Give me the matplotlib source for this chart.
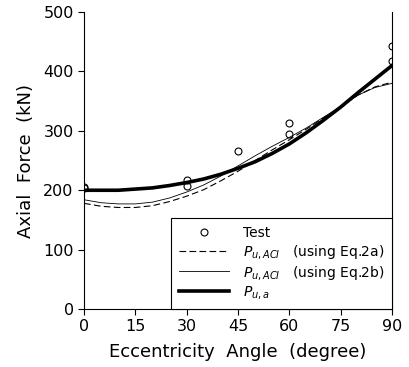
import matplotlib
matplotlib.use("Agg")
import matplotlib.pyplot as plt

# eccentricity angle (degree)
angle = [0, 5, 10, 15, 20, 25, 30, 35, 40, 45, 50, 55, 60, 65, 70, 75, 80, 85, 90]
# P_u,a (proposed)
pu_a = [200, 200, 200, 202, 204, 208, 213, 219, 227, 237, 248, 262, 278, 297, 318, 340, 364, 387, 410]
# P_u,ACI using Eq.2a
pu_aci_2a = [178, 173, 171, 171, 174, 181, 190, 201, 216, 232, 250, 268, 285, 303, 322, 340, 360, 374, 382]
# P_u,ACI using Eq.2b
pu_aci_2b = [184, 179, 177, 177, 180, 187, 197, 209, 224, 241, 258, 274, 289, 305, 323, 341, 360, 373, 380]

# test results
test_angle = [0, 0, 30, 30, 45, 60, 60, 90, 90]
test_force = [203, 206, 218, 208, 266, 313, 295, 443, 418]

fig = plt.figure(figsize=(4.10, 3.67), dpi=100)
ax = fig.add_axes([0.205, 0.158, 0.751, 0.809])

ax.plot(test_angle, test_force, 'o', mfc='none', mec='black', ms=5, mew=0.8,
        label='Test', zorder=5)
ax.plot(angle, pu_aci_2a, '--', color='black', lw=0.8, dashes=(6, 3),
        label=r'$P_{u,ACI}$   (using Eq.2a)')
ax.plot(angle, pu_aci_2b, '-', color='black', lw=0.6,
        label=r'$P_{u,ACI}$   (using Eq.2b)')
ax.plot(angle, pu_a, '-', color='black', lw=2.6, label=r'$P_{u,a}$')

ax.set_xlim(0, 90)
ax.set_ylim(0, 500)
ax.set_xticks([0, 15, 30, 45, 60, 75, 90])
ax.set_yticks([0, 100, 200, 300, 400, 500])
ax.spines['top'].set_visible(False)
for s in ['left', 'right', 'bottom']:
    ax.spines[s].set_linewidth(0.8)
ax.tick_params(direction='out', length=4, width=0.8, labelsize=11.5)

ax.set_xlabel('Eccentricity  Angle  (degree)', fontsize=13, labelpad=6)
ax.set_ylabel('Axial  Force  (kN)', fontsize=13, labelpad=6)

leg = ax.legend(loc='lower right', borderaxespad=0, fancybox=False,
                edgecolor='black', fontsize=10, handlelength=3.6,
                handletextpad=1.0, labelspacing=0.2, borderpad=0.55,
                framealpha=1)
leg.get_frame().set_linewidth(0.8)

fig.savefig('out.png', dpi=100)
